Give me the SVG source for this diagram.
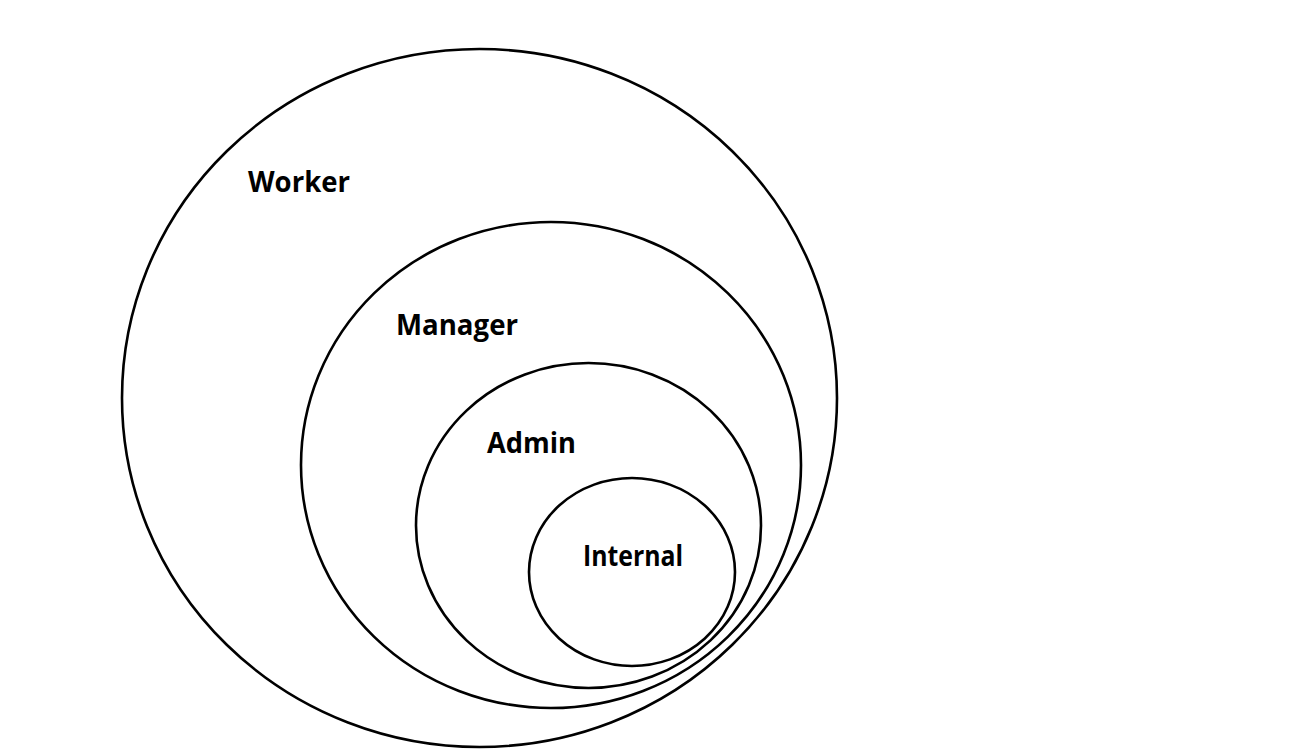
<svg xmlns="http://www.w3.org/2000/svg" width="1298" height="751" viewBox="0 0 1298 751">
<style>
.ring{fill:none;stroke:#000;stroke-width:2.6}
.lbl{font-family:"Open Sans","Liberation Sans",sans-serif;font-weight:bold;font-size:28px;fill:#000}
</style>
<rect width="1298" height="751" fill="#fff"/>
<g id="worker">
<ellipse class="ring" cx="479.5" cy="398" rx="357.5" ry="349"/>
<text class="lbl" x="248" y="192" textLength="102" lengthAdjust="spacingAndGlyphs">Worker</text>
</g>
<g id="manager">
<ellipse class="ring" cx="551" cy="465" rx="250" ry="243"/>
<text class="lbl" x="396" y="335" textLength="122" lengthAdjust="spacingAndGlyphs">Manager</text>
</g>
<g id="admin">
<ellipse class="ring" cx="588.5" cy="525.5" rx="172.5" ry="162.5"/>
<text class="lbl" x="487" y="453" textLength="89" lengthAdjust="spacingAndGlyphs">Admin</text>
</g>
<g id="internal">
<ellipse class="ring" cx="632" cy="572" rx="103" ry="94"/>
<text class="lbl" x="583" y="566" textLength="100" lengthAdjust="spacingAndGlyphs">Internal</text>
</g>
<g id="connectors"/>
</svg>
